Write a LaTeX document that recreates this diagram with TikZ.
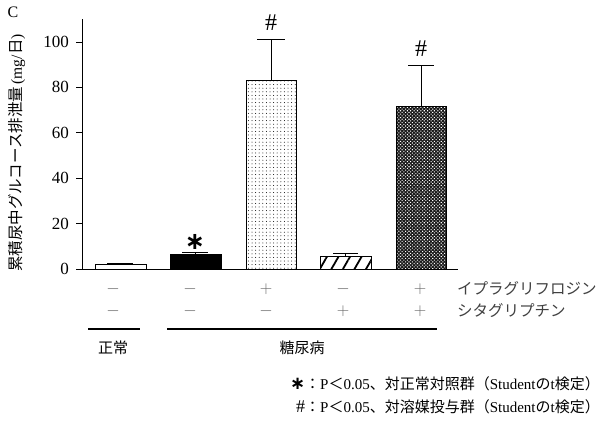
\documentclass[tikz,border=0pt]{standalone}
\usepackage{fontspec}
\setmainfont{Liberation Serif}
\newfontfamily\jp{Noto Sans CJK JP}
\newfontfamily\sym{DejaVu Sans}
\usetikzlibrary{patterns.meta}

\begin{document}
\begin{tikzpicture}[x=1pt, y=-1pt,
    barbox/.style={draw=black, line width=0.9pt},
    errbar/.style={line width=0.8pt},
    ticklabel/.style={anchor=east, inner sep=0pt, font=\fontsize{17}{17}\selectfont},
    sign/.style={text=black!60, inner sep=0pt, font=\fontsize{18}{18}\selectfont},
    drugname/.style={anchor=west, inner sep=0pt, text=black!75, font=\fontsize{15.5}{15.5}\selectfont\jp},
    groupline/.style={line width=1.6pt},
    grouplabel/.style={inner sep=0pt, font=\fontsize{15}{15}\selectfont\jp},
    sigmark/.style={inner sep=0pt, font=\fontsize{24}{24}\selectfont},
    note/.style={anchor=east, inner sep=0pt, font=\fontsize{15}{15}\selectfont}]
    \useasboundingbox (0,0) rectangle (601,423);
    \node[inner sep=0pt, font=\fontsize{16}{16}\selectfont] (panel) at (13,12) {C};
    \node[rotate=90, inner sep=0pt, font=\fontsize{15.5}{15.5}\selectfont] (ylab) at (17,153)
        {{\jp 累積尿中グルコース排泄量}\,(mg/{\jp 日})};
    \begin{scope}[yshift=-269pt, y=2.27pt]
        \draw[line width=0.8pt] (82,110) -- (82,0) -- (458,0);
        \draw[line width=0.8pt]
        (76,0) -- (82,0)
        (76,20) -- (82,20)
        (76,40) -- (82,40)
        (76,60) -- (82,60)
        (76,80) -- (82,80)
        (76,100) -- (82,100);
        \node[ticklabel] (t0) at (69,0) {0};
        \node[ticklabel] (t20) at (69,20) {20};
        \node[ticklabel] (t40) at (69,40) {40};
        \node[ticklabel] (t60) at (69,60) {60};
        \node[ticklabel] (t80) at (69,80) {80};
        \node[ticklabel] (t100) at (69,100) {100};
        \draw[errbar]
        (120,2.2) -- (120,2.6) (107,2.6) -- (133,2.6)
        (195,6.2) -- (195,7.3) (182,7.3) -- (208,7.3)
        (271,83) -- (271,101) (257,101) -- (285,101)
        (345,5.5) -- (345,7) (333,7) -- (358,7)
        (421,71.5) -- (421,89.5) (408,89.5) -- (434,89.5);
        \draw[barbox, fill=white] (95,0) rectangle (146,2.2);
        \draw[barbox, fill=black] (170,0) rectangle (221,6.2);
        \draw[barbox, pattern={Dots[distance=3.6pt, radius=0.5pt]}, pattern color=black] (246,0) rectangle (296,83);
        \draw[barbox, pattern={Lines[angle=60, distance=10pt, line width=1.8pt]}] (320,0) rectangle (371,5.5);
        \fill[black!90] (396,0) rectangle (446,71.5);
        \draw[barbox, pattern={Dots[distance=2.4pt, radius=0.75pt, angle=45]}, pattern color=white] (396,0) rectangle (446,71.5);
        \node[sigmark] (star2) at (195,11.9) {\sym\bfseries ∗};
        \node[sigmark] (hash3) at (271,108.4) {\#};
        \node[sigmark] (hash5) at (421,96.9) {\#};
    \end{scope}
    \node[sign] (ip1) at (113,289) {$-$};
    \node[sign] (ip2) at (190,289) {$-$};
    \node[sign] (ip3) at (266,289) {$+$};
    \node[sign] (ip4) at (343,289) {$-$};
    \node[sign] (ip5) at (420,289) {$+$};
    \node[sign] (si1) at (113,311) {$-$};
    \node[sign] (si2) at (190,311) {$-$};
    \node[sign] (si3) at (266,311) {$-$};
    \node[sign] (si4) at (343,311) {$+$};
    \node[sign] (si5) at (420,311) {$+$};
    \node[drugname] (ipra) at (457,289) {イプラグリフロジン};
    \node[drugname] (sita) at (457,311) {シタグリプチン};
    \draw[groupline] (88,329) -- (140,329);
    \draw[groupline] (167,329) -- (437,329);
    \node[grouplabel] (normal) at (113,348) {正常};
    \node[grouplabel] (diab) at (302,348) {糖尿病};
    \node[note] (note1) at (600,384)
        {{\fontsize{18}{18}\selectfont\sym\bfseries ∗}{\jp ：}P{\jp ＜}0.05{\jp 、対正常対照群（}Student{\jp の}t{\jp 検定）}};
    \node[note] (note2) at (600,407)
        {{\fontsize{18}{18}\selectfont\#}{\jp ：}P{\jp ＜}0.05{\jp 、対溶媒投与群（}Student{\jp の}t{\jp 検定）}};
\end{tikzpicture}
\end{document}
